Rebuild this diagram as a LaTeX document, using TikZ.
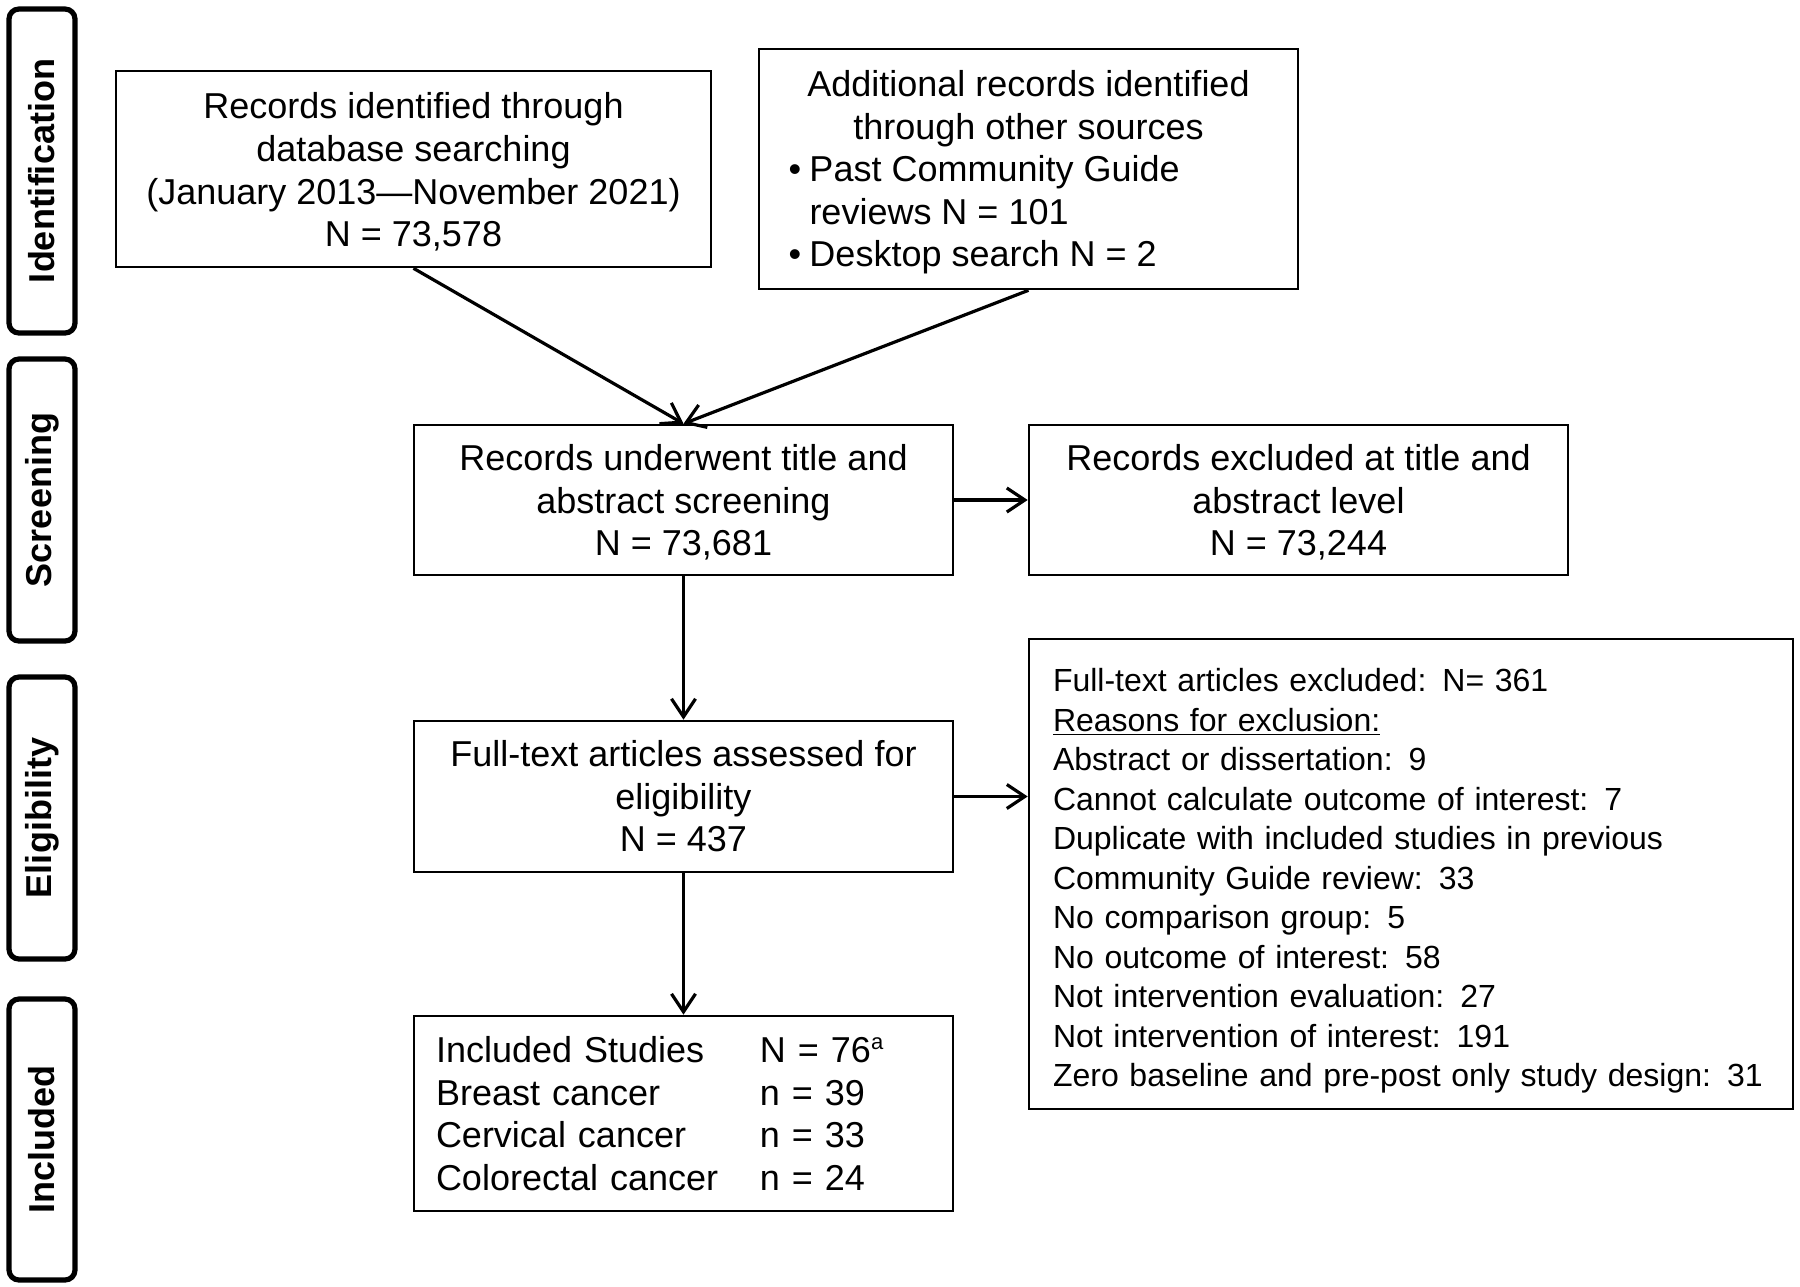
\documentclass[tikz,border=0pt]{standalone}
\usepackage{fontspec}
\setmainfont{Liberation Sans}
\usetikzlibrary{arrows.meta}
\begin{document}
\begin{tikzpicture}[x=0.5pt,y=-0.5pt,
  box/.style={draw, line width=1.3pt, align=center, inner sep=0pt,
    font=\fontsize{18}{21.3}\selectfont},
  phase/.style={draw, line width=2.6pt, rounded corners=5pt, minimum height=33pt,
    inner sep=0pt, font=\bfseries\fontsize{18}{21}\selectfont, rotate=90},
  arr/.style={line width=1.6pt, -{Straight Barb[length=9pt,width=12pt,line width=1.6pt]}}
]
\useasboundingbox (0,0) rectangle (1800,1286);

% phase labels
\node[phase, minimum width=162pt] (pid) at (42,171) {Identification};
\node[phase, minimum width=141pt] (psc) at (42,500) {Screening};
\node[phase, minimum width=141pt] (pel) at (42,818) {Eligibility};
\node[phase, minimum width=140.5pt] (pin) at (42,1139.5) {Included};

% boxes
\node[box, minimum width=297.5pt, minimum height=98pt] (db) at (413.5,169)
  {\rule{0pt}{16pt}Records identified through\\database searching\\(January 2013---November 2021)\\N = 73,578};
\node[box, minimum width=269.5pt, minimum height=120pt] (other) at (1028.5,169)
  {\begin{minipage}{240pt}\fontsize{18}{21.3}\selectfont
   \centering\rule{0pt}{16.5pt}Additional records identified\\through other sources\par
   \raggedright
   \makebox[10.5pt][l]{\textbullet}Past Community Guide\\
   \hspace*{10.5pt}reviews N = 101\\
   \makebox[10.5pt][l]{\textbullet}Desktop search N = 2\end{minipage}};
\node[box, minimum width=269.5pt, minimum height=75pt] (scr) at (683.5,500)
  {\rule{0pt}{15.5pt}Records underwent title and\\abstract screening\\N = 73,681};
\node[box, minimum width=269.5pt, minimum height=75pt] (exc) at (1298.5,500)
  {\rule{0pt}{15.5pt}Records excluded at title and\\abstract level\\N = 73,244};
\node[box, minimum width=269.5pt, minimum height=75.5pt] (ft) at (683.5,796.5)
  {Full-text articles assessed for\\eligibility\\N = 437};
\node[box, minimum width=382pt, minimum height=235pt, align=left, inner xsep=12pt,
  text width=358pt, font=\fontsize{16}{19.75}\selectfont] (ftx) at (1411,874)
  {\rule{0pt}{18.5pt}Full-text articles excluded: N= 361\\
   \underline{Reasons for exclusion:}\\
   Abstract or dissertation: 9\\
   Cannot calculate outcome of interest: 7\\
   Duplicate with included studies in previous\\
   Community Guide review: 33\\
   No comparison group: 5\\
   No outcome of interest: 58\\
   Not intervention evaluation: 27\\
   Not intervention of interest: 191\\
   Zero baseline and pre-post only study design: 31};
\node[box, minimum width=269.5pt, minimum height=97.5pt, align=left, inner xsep=11pt,
  text width=247.5pt] (inc) at (683.5,1113.5)
  {\makebox[162pt][l]{Included Studies}N = 76\textsuperscript{\fontsize{11}{11}\selectfont a}\\
   \makebox[162pt][l]{Breast cancer}n = 39\\
   \makebox[162pt][l]{Cervical cancer}n = 33\\
   \makebox[162pt][l]{Colorectal cancer}n = 24};

% connectors
\draw[arr] (db.south) -- (scr.north);
\draw[arr] (other.south) -- (scr.north);
\draw[arr] (scr.east) -- (exc.west);
\draw[arr] (scr.south) -- (ft.north);
\draw[arr] (ft.east) -- (ft.east -| ftx.west);
\draw[arr] (ft.south) -- (inc.north);
\end{tikzpicture}
\end{document}
